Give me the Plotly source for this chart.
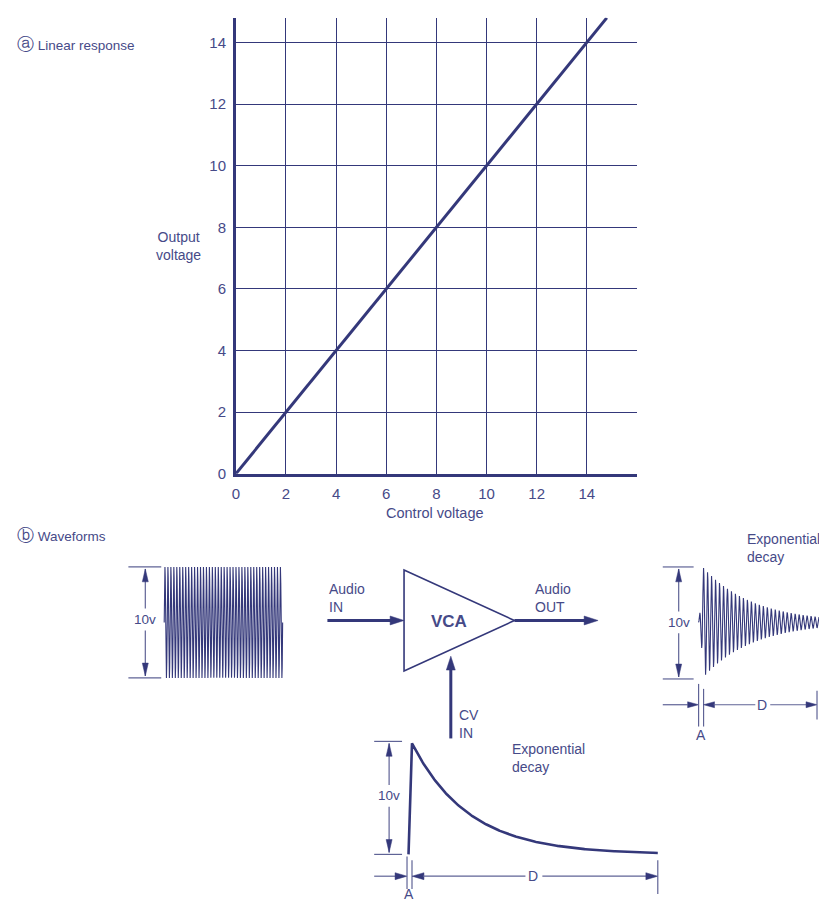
import numpy as np
import plotly.graph_objects as go

# ---- (a) linear response data ----
control_voltage = [0, 2, 4, 6, 8, 10, 12, 14, 14.8]
output_voltage = [0, 2, 4, 6, 8, 10, 12, 14, 14.8]
tick_values = [0, 2, 4, 6, 8, 10, 12, 14]
tick_labels = ["0", "2", "4", "6", "8", "10", "12", "14"]

# ---- (b) waveform parameters ----
audio_cycles = 40          # cycles in the steady audio input
out_cycles_period = 4.0    # oscillation period of the output burst (px)
cv_decay_tau = 57.0        # envelope decay constant (px)
out_decay_tau = 50.0

INK = "#34387a"
TEXT = "#464a88"
DIM = "#5f6396"
FONT = "Liberation Sans, Arial, sans-serif"

W, H = 819, 907

fig = go.Figure()

# linear response line
fig.add_trace(go.Scatter(
    x=control_voltage, y=output_voltage, mode="lines",
    line=dict(color=INK, width=3), xaxis="x", yaxis="y",
    hoverinfo="skip", showlegend=False))

# ---- waveforms, drawn on a pixel-space overlay axis ----
# steady audio input
xa = np.linspace(161, 280, 1600)
ya = 628 - 56 * np.sin(2 * np.pi * audio_cycles * (xa - 161) / (280 - 161))
fig.add_trace(go.Scatter(x=xa, y=ya, mode="lines", line=dict(color=INK, width=1.1),
                         xaxis="x2", yaxis="y2", hoverinfo="skip", showlegend=False))

# CV envelope: fast attack, exponential decay
xd = np.linspace(410, 657, 300)
xc = np.concatenate([[406.5], xd])
yc = np.concatenate([[862], 862 - 112 * np.exp(-(xd - 410) / cv_decay_tau)])
fig.add_trace(go.Scatter(x=xc, y=yc, mode="lines", line=dict(color=INK, width=2.6),
                         xaxis="x2", yaxis="y2", hoverinfo="skip", showlegend=False))

# audio output burst shaped by the envelope
xo = np.linspace(698, 819, 2400)
env = np.where(xo < 702, 56 * (xo - 698) / 4 * 0.6,
               56 * np.exp(-(xo - 702) / out_decay_tau))
yo = 628 - env * np.sin(2 * np.pi * (xo - 698) / out_cycles_period)
fig.add_trace(go.Scatter(x=xo, y=yo, mode="lines", line=dict(color=INK, width=1.1),
                         xaxis="x2", yaxis="y2", hoverinfo="skip", showlegend=False))

shapes = []


def seg(x0, y0, x1, y1, w=1.2, color=DIM):
    shapes.append(dict(type="line", xref="x2", yref="y2", x0=x0, y0=y0, x1=x1, y1=y1,
                       line=dict(color=color, width=w)))


def head(xt, yt, dx, dy, length=12, width=6, color=INK):
    # filled triangular arrow head with its tip at (xt, yt), pointing along (dx, dy)
    bx, by = xt - dx * length, yt - dy * length
    px, py = -dy * width / 2, dx * width / 2
    shapes.append(dict(type="path", xref="x2", yref="y2",
                       path=f"M{xt},{yt} L{bx + px},{by + py} L{bx - px},{by - py} Z",
                       fillcolor=color, line=dict(color=color, width=0.5)))


def vdim(x, ytop, ybot, tick_x0, tick_x1, label_y):
    seg(tick_x0, ytop, tick_x1, ytop)
    seg(tick_x0, ybot, tick_x1, ybot)
    seg(x, ytop + 2, x, label_y - 11)
    seg(x, label_y + 11, x, ybot - 2)
    head(x, ytop + 2, 0, -1, 13, 6)
    head(x, ybot - 2, 0, 1, 13, 6)


# VCA triangle
shapes.append(dict(type="path", xref="x2", yref="y2", path="M402,575 L513,626 L402,677 Z",
                   line=dict(color=INK, width=1.6), fillcolor="rgba(0,0,0,0)"))

# signal arrows
seg(325, 626, 390, 626, 3, INK); head(402, 626, 1, 0, 14, 9)
seg(513, 626, 585, 626, 3, INK); head(597, 626, 1, 0, 14, 9)
seg(449, 745, 449, 675, 3, INK); head(449, 662, 0, -1, 14, 9)

# 10 V dimension markers
vdim(142, 572, 684, 125, 158, 625)
vdim(387, 748, 862, 372, 400, 803)
vdim(678, 572, 685, 662, 693, 628)

# A / D timing markers under the CV envelope
seg(372, 884, 394, 884); head(405, 884, 1, 0, 12, 7)
seg(405, 864, 405, 897); seg(410, 868, 410, 897)
head(410, 884, -1, 0, 12, 7); seg(421, 884, 524, 884)
seg(541, 884, 646, 884); head(657, 884, 1, 0, 12, 7)
seg(657, 868, 657, 902)

# A / D timing markers under the output burst
seg(662, 711, 687, 711); head(698, 711, 1, 0, 11, 6)
seg(698, 690, 698, 733); seg(703, 695, 703, 733)
head(703, 711, -1, 0, 11, 6); seg(713, 711, 755, 711)
seg(770, 711, 806, 711); head(817, 711, 1, 0, 11, 6)
seg(817, 697, 817, 726)

annotations = []


def label(text, x, y, anchor="left", size=14, bold=False):
    if bold:
        text = f"<b>{text}</b>"
    annotations.append(dict(text=text, x=x, y=y, xref="x2", yref="y2", showarrow=False,
                            xanchor=anchor, yanchor="middle", align=anchor,
                            font=dict(family=FONT, size=size, color=TEXT)))


label("<span style='font-size:17px'>ⓐ</span> Linear response", 11, 45, size=13.5)
label("<span style='font-size:17px'>ⓑ</span> Waveforms", 11, 540, size=13.5)
label("Output<br>voltage", 175, 248, "center", 14)
label("Control voltage", 433, 518, "center", 14.5)
label("10v", 142, 625, "center", 13.5)
label("10v", 387, 803, "center", 13.5)
label("10v", 678, 628, "center", 13.5)
label("Audio<br>IN", 325, 603, size=14)
label("Audio<br>OUT", 532, 603, size=14)
label("VCA", 447, 627, "center", 17, bold=True)
label("CV<br>IN", 455, 730, size=14)
label("Exponential<br>decay", 508, 765, size=14)
label("Exponential<br>decay", 745, 553, size=14)
label("D", 532, 884, "center", 14)
label("D", 762, 711, "center", 14)
label("A", 407, 902, "center", 14)
label("A", 700, 742, "center", 14)

axis_common = dict(
    tickvals=tick_values, ticktext=tick_labels, showgrid=True, gridcolor=INK, gridwidth=1.4,
    zeroline=False, showline=True, linecolor=INK, linewidth=2.6, ticks="",
    tickfont=dict(family=FONT, size=15, color=TEXT), fixedrange=True,
    ticklabelstandoff=4,
)

fig.update_layout(
    width=W, height=H,
    margin=dict(l=0, r=0, t=0, b=0),
    paper_bgcolor="white", plot_bgcolor="rgba(0,0,0,0)",
    xaxis=dict(domain=[233 / W, 636 / W], range=[0, 16], anchor="y", **axis_common),
    yaxis=dict(domain=[1 - 478 / H, 1 - 18 / H], range=[0, 14.8], anchor="x", **axis_common),
    xaxis2=dict(domain=[0, 1], range=[0, W], visible=False, anchor="y2", fixedrange=True),
    yaxis2=dict(domain=[0, 1], range=[H, 0], visible=False, anchor="x2", fixedrange=True),
    shapes=shapes, annotations=annotations, showlegend=False,
)

fig.write_html("out.html")
